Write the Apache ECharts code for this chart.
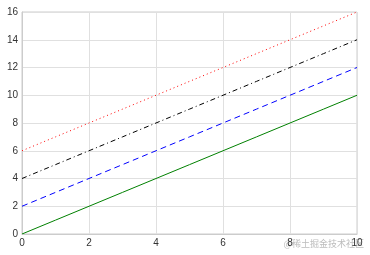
<!DOCTYPE html>
<html><head><meta charset="utf-8">
<script src="https://cdn.jsdelivr.net/npm/echarts@6/dist/echarts.min.js"></script>
<style>html,body{margin:0;padding:0;background:#fff}#c{width:370px;height:255px}</style>
</head><body><div id="c"></div>
<script>
const xValues = [0, 1, 2, 3, 4, 5, 6, 7, 8, 9, 10];
const seriesSolid = [0, 1, 2, 3, 4, 5, 6, 7, 8, 9, 10];
const seriesDashed = [2, 3, 4, 5, 6, 7, 8, 9, 10, 11, 12];
const seriesDashDot = [4, 5, 6, 7, 8, 9, 10, 11, 12, 13, 14];
const seriesDotted = [6, 7, 8, 9, 10, 11, 12, 13, 14, 15, 16];
const watermark = '@稀土掘金技术社区';

const pairs = a => xValues.map((x, i) => [x, a[i]]);
const chart = echarts.init(document.getElementById('c'));
const axisCommon = {
  axisLine: {show: true, lineStyle: {color: '#cccccc', width: 1}},
  axisTick: {show: false},
  splitLine: {show: true, lineStyle: {color: '#e0e0e0', width: 1}},
  axisLabel: {color: '#333', fontSize: 10, fontFamily: 'Liberation Sans'}
};
const mk = (data, color, type) => ({
  type: 'line', data: pairs(data), symbol: 'none', animation: false,
  lineStyle: {color, width: 1, type}
});
chart.setOption({
  animation: false,
  grid: {left: 22, right: 13, top: 12, bottom: 21, show: true, borderColor: '#cccccc', borderWidth: 1},
  xAxis: Object.assign({type: 'value', min: 0, max: 10, interval: 2}, axisCommon,
    {axisLabel: Object.assign({}, axisCommon.axisLabel, {margin: 4})}),
  yAxis: Object.assign({type: 'value', min: 0, max: 16, interval: 2}, axisCommon,
    {axisLabel: Object.assign({}, axisCommon.axisLabel, {margin: 4})}),
  series: [
    mk(seriesSolid, '#008000', 'solid'),
    mk(seriesDashed, '#0000ff', [6, 4]),
    mk(seriesDashDot, '#000000', [5, 3, 1, 3]),
    mk(seriesDotted, '#ff0000', [1, 3])
  ],
  graphic: [{
    type: 'text', right: 6, bottom: 7,
    style: {text: watermark, fill: 'rgba(160,160,160,0.7)', fontSize: 9, fontFamily: 'Noto Sans CJK SC'}
  }]
});
</script></body></html>
